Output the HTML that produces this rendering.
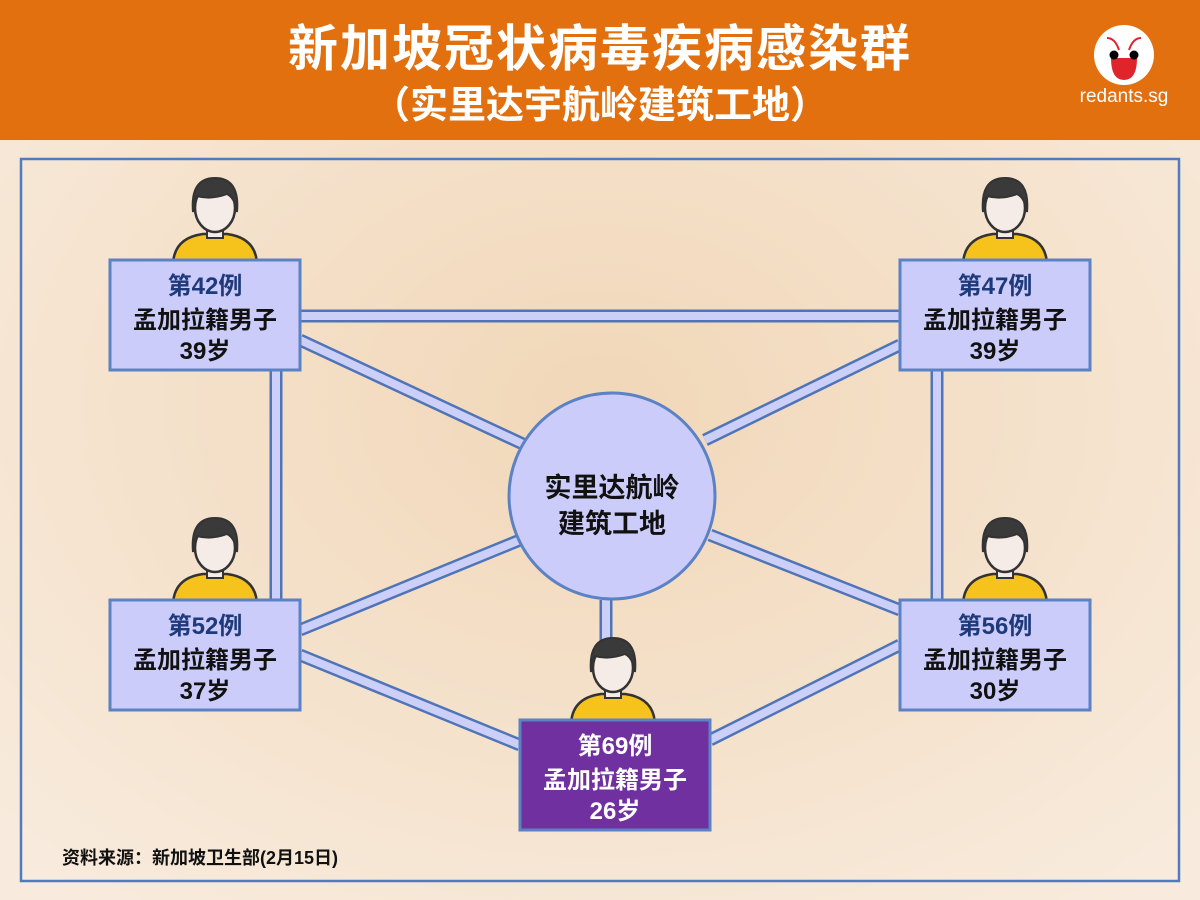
<!DOCTYPE html>
<html><head><meta charset="utf-8"><style>
body{margin:0;width:1200px;height:900px;overflow:hidden;font-family:"Liberation Sans","Noto Sans CJK SC",sans-serif;}
</style></head><body>
<svg width="1200" height="900" viewBox="0 0 1200 900" xmlns="http://www.w3.org/2000/svg" style="display:block">
<defs>
<radialGradient id="bg" cx="50%" cy="45%" r="70%">
<stop offset="0" stop-color="#f1d7b8"/><stop offset="1" stop-color="#f8ebdd"/>
</radialGradient>
<g id="p">
<path d="M-42,58 Q-42,30 -12,26 L12,26 Q42,30 42,58 Z" fill="#f6c21c" stroke="#333" stroke-width="2.5"/>
<rect x="-8" y="16" width="16" height="14" fill="#f5ece8" stroke="#333" stroke-width="2"/>
<ellipse cx="0" cy="0" rx="20" ry="24" fill="#f5ece8" stroke="#333" stroke-width="2.5"/>
<path d="M-22,4 Q-25,-30 0,-30 Q25,-30 22,4 Q20,-10 12,-14 Q-4,-8 -18,-12 Q-21,-8 -22,4 Z" fill="#3a3a3a" stroke="#333" stroke-width="2"/>
</g>
</defs>
<rect width="1200" height="900" fill="url(#bg)"/>
<rect width="1200" height="140" fill="#e2700f"/>
<text x="600" y="66" text-anchor="middle" font-size="50" font-weight="bold" fill="#fff" letter-spacing="2">新加坡冠状病毒疾病感染群</text>
<text x="600" y="118" text-anchor="middle" font-size="38" font-weight="bold" fill="#fff">（实里达宇航岭建筑工地）</text>
<circle cx="1124" cy="55" r="30" fill="#fff"/>
<path d="M1111,58 Q1111,80 1124,80 Q1137,80 1137,58 Z" fill="#e0242c"/>
<circle cx="1114" cy="55" r="4.5" fill="#000"/><circle cx="1134" cy="55" r="4.5" fill="#000"/>
<path d="M1119,50 Q1115,38 1107,38 M1129,50 Q1133,38 1141,38" stroke="#e0242c" stroke-width="2" fill="none"/>
<text x="1124" y="102" text-anchor="middle" font-size="19" fill="#fff">redants.sg</text>
<rect x="21" y="159" width="1158" height="722" fill="none" stroke="#4f7bc0" stroke-width="2.5"/>
<g stroke="#4f74b8" stroke-width="13" fill="none">
<path d="M300,316 H900 M276,370 V600 M937,370 V600 M300,340 L525,445 M900,345 L705,440 M300,630 L520,540 M900,610 L710,535 M300,655 L520,745 M900,645 L710,740 M606,600 V650"/>
</g>
<g stroke="#cccff7" stroke-width="8" fill="none">
<path d="M300,316 H900 M276,370 V600 M937,370 V600 M300,340 L525,445 M900,345 L705,440 M300,630 L520,540 M900,610 L710,535 M300,655 L520,745 M900,645 L710,740 M606,600 V650"/>
</g>
<circle cx="612" cy="496" r="103" fill="#ccccfa" stroke="#5b82c4" stroke-width="3"/>
<text x="612" y="497" text-anchor="middle" font-size="27" font-weight="bold" fill="#111">实里达航岭</text>
<text x="612" y="533" text-anchor="middle" font-size="27" font-weight="bold" fill="#111">建筑工地</text>
<use href="#p" x="215" y="208"/><use href="#p" x="1005" y="208"/>
<use href="#p" x="215" y="548"/><use href="#p" x="1005" y="548"/>
<use href="#p" x="613" y="668"/>
<g font-size="24" font-weight="bold" text-anchor="middle">
<rect x="110" y="260" width="190" height="110" fill="#ccccfa" stroke="#5b82c4" stroke-width="3"/>
<text x="205" y="294" fill="#1f3a7a">第42例</text><text x="205" y="328" fill="#111">孟加拉籍男子</text><text x="205" y="359" fill="#111">39岁</text>
<rect x="900" y="260" width="190" height="110" fill="#ccccfa" stroke="#5b82c4" stroke-width="3"/>
<text x="995" y="294" fill="#1f3a7a">第47例</text><text x="995" y="328" fill="#111">孟加拉籍男子</text><text x="995" y="359" fill="#111">39岁</text>
<rect x="110" y="600" width="190" height="110" fill="#ccccfa" stroke="#5b82c4" stroke-width="3"/>
<text x="205" y="634" fill="#1f3a7a">第52例</text><text x="205" y="668" fill="#111">孟加拉籍男子</text><text x="205" y="699" fill="#111">37岁</text>
<rect x="900" y="600" width="190" height="110" fill="#ccccfa" stroke="#5b82c4" stroke-width="3"/>
<text x="995" y="634" fill="#1f3a7a">第56例</text><text x="995" y="668" fill="#111">孟加拉籍男子</text><text x="995" y="699" fill="#111">30岁</text>
<rect x="520" y="720" width="190" height="110" fill="#7030a0" stroke="#5b82c4" stroke-width="3"/>
<text x="615" y="754" fill="#fff">第69例</text><text x="615" y="788" fill="#fff">孟加拉籍男子</text><text x="615" y="819" fill="#fff">26岁</text>
</g>
<text x="62" y="864" font-size="18" font-weight="bold" fill="#111">资料来源：新加坡卫生部(2月15日)</text>
</svg>
</body></html>
